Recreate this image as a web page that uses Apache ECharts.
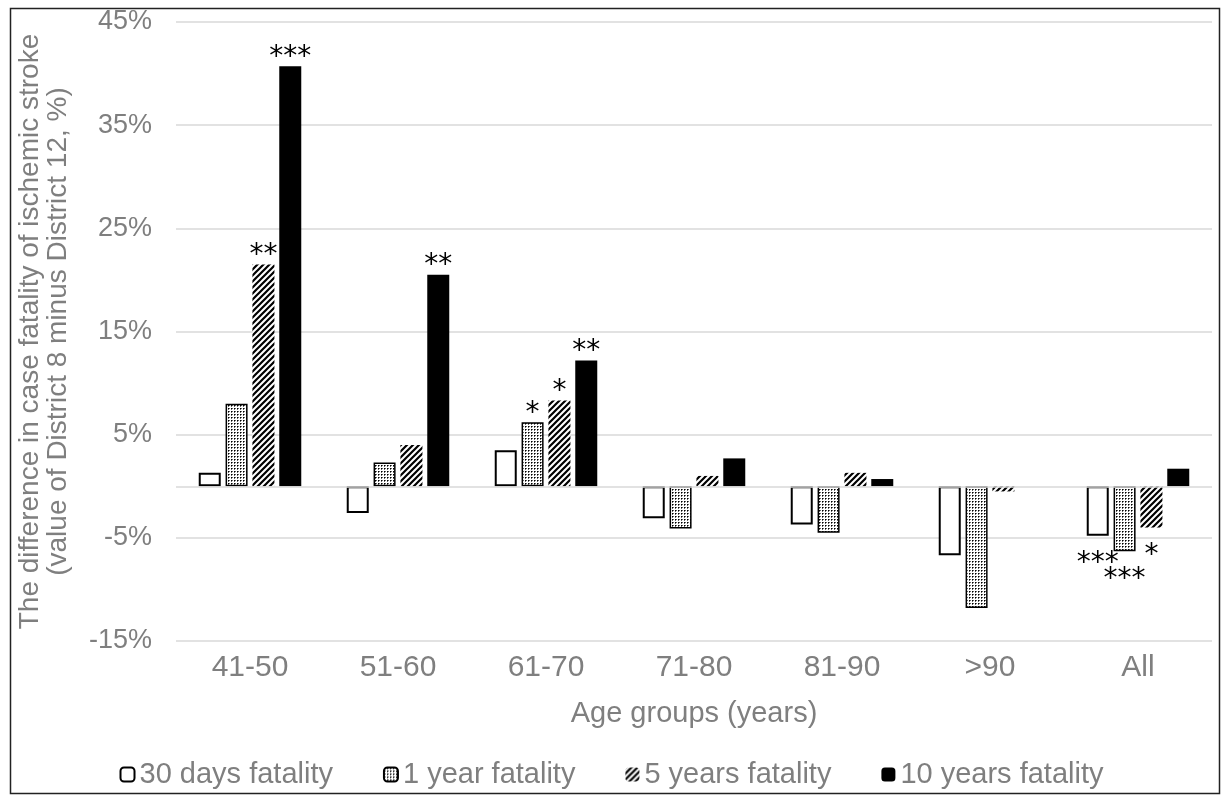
<!DOCTYPE html>
<html>
<head>
<meta charset="utf-8">
<script src="https://cdn.jsdelivr.net/npm/echarts@6/dist/echarts.min.js"></script>
<style>
  html, body { margin: 0; padding: 0; background: #fff; }
  #chart { width: 1223px; height: 795px; }
</style>
</head>
<body>
<div id="chart"></div>
<script>
// data (percent)
const categories = ['41-50', '51-60', '61-70', '71-80', '81-90', '>90', 'All']
const seriesNames = ['30 days fatality', '1 year fatality', '5 years fatality', '10 years fatality']
const fatality30d = [1.3, -2.6, 3.5, -3.1, -3.7, -6.7, -4.8]
const fatality1y = [8.0, 2.3, 6.2, -4.1, -4.5, -11.8, -6.3]
const fatality5y = [21.5, 4.0, 8.3, 1.0, 1.3, -0.5, -4.0]
const fatality10y = [40.7, 20.5, 12.2, 2.7, 0.7, 0, 1.7]
// significance marks
const stars30d = ['', '', '', '', '', '', '***']
const stars1y = ['', '', '*', '', '', '', '***']
const stars5y = ['**', '', '*', '', '', '', '*']
const stars10y = ['***', '**', '**', '', '', '', '']
// y axis range
const yMin = -15
const yMax = 45
const yStep = 10

const textGrey = '#7f7f7f'
const font = 'Liberation Sans'

function dotPattern() {
  const c = document.createElement('canvas')
  c.width = 3
  c.height = 3
  const ctx = c.getContext('2d')
  ctx.fillStyle = '#fff'
  ctx.fillRect(0, 0, 3, 3)
  ctx.fillStyle = '#000'
  ctx.fillRect(0, 0, 1, 1)
  ctx.fillStyle = '#666'
  ctx.fillRect(1, 0, 1, 1)
  ctx.fillRect(0, 1, 1, 1)
  return c
}

function stripePattern() {
  const s = 6
  const c = document.createElement('canvas')
  c.width = s
  c.height = s
  const ctx = c.getContext('2d')
  ctx.fillStyle = '#fff'
  ctx.fillRect(0, 0, s, s)
  ctx.strokeStyle = '#000'
  ctx.lineWidth = 2.2
  ctx.beginPath()
  ctx.moveTo(-1, s + 1); ctx.lineTo(s + 1, -1)
  ctx.moveTo(-1, 1); ctx.lineTo(1, -1)
  ctx.moveTo(s - 1, s + 1); ctx.lineTo(s + 1, s - 1)
  ctx.stroke()
  return c
}

// stars go above positive bars and below negative ones
function buildData(values, stars) {
  return values.map(function(v, i) {
    return {
      value: v,
      label: {
        show: stars[i] !== '',
        formatter: stars[i],
        position: v < 0 ? 'bottom' : 'top',
        distance: v < 0 ? 14 : -5
      }
    }
  })
}

const starLabel = {
  color: '#000',
  fontSize: 28,
  fontFamily: 'DejaVu Sans'
}

const chart = echarts.init(document.getElementById('chart'))
chart.setOption({
  animation: false,
  backgroundColor: '#fff',
  graphic: [{
    type: 'rect',
    silent: true,
    shape: { x: 10.5, y: 8.5, width: 1209, height: 785 },
    style: { fill: 'none', stroke: '#222', lineWidth: 1.5 }
  }],
  grid: {
    left: 176,
    right: 11,
    top: 22,
    bottom: 154
  },
  legend: {
    data: seriesNames,
    left: 'center',
    top: 755,
    itemWidth: 14,
    itemHeight: 14,
    itemGap: 50,
    textStyle: { fontSize: 29, color: textGrey, fontFamily: font }
  },
  xAxis: {
    type: 'category',
    data: categories,
    name: 'Age groups (years)',
    nameLocation: 'middle',
    nameGap: 58,
    nameTextStyle: { fontSize: 29, color: textGrey, fontFamily: font },
    axisLine: { show: false },
    axisTick: { show: false },
    axisLabel: { fontSize: 30, color: textGrey, fontFamily: font, margin: 12 }
  },
  yAxis: {
    type: 'value',
    min: yMin,
    max: yMax,
    interval: yStep,
    name: 'The difference in case fatality of ischemic stroke\n(value of District 8 minus District 12, %)',
    nameLocation: 'middle',
    nameGap: 104,
    nameTextStyle: { fontSize: 28, color: textGrey, fontFamily: font, lineHeight: 28 },
    axisLine: { show: false },
    axisTick: { show: false },
    axisLabel: { fontSize: 27, color: textGrey, fontFamily: font, margin: 24, formatter: '{value}%' },
    splitLine: { lineStyle: { color: '#d9d9d9', width: 1.5 } }
  },
  series: [
    {
      name: seriesNames[0],
      type: 'bar',
      barWidth: 22,
      barGap: '22%',
      data: buildData(fatality30d, stars30d),
      itemStyle: { color: '#fff', borderColor: '#000', borderWidth: 2 },
      label: starLabel,
      markLine: {
        silent: true,
        symbol: 'none',
        label: { show: false },
        lineStyle: { color: '#d9d9d9', type: 'solid', width: 1.5 },
        data: [{ yAxis: 0 }]
      }
    },
    {
      name: seriesNames[1],
      type: 'bar',
      barWidth: 22,
      barGap: '22%',
      data: buildData(fatality1y, stars1y),
      itemStyle: { color: { image: dotPattern(), repeat: 'repeat' }, borderColor: '#000', borderWidth: 1.5 },
      label: starLabel
    },
    {
      name: seriesNames[2],
      type: 'bar',
      barWidth: 22,
      barGap: '22%',
      data: buildData(fatality5y, stars5y),
      itemStyle: { color: { image: stripePattern(), repeat: 'repeat' } },
      label: starLabel
    },
    {
      name: seriesNames[3],
      type: 'bar',
      barWidth: 22,
      barGap: '22%',
      data: buildData(fatality10y, stars10y),
      itemStyle: { color: '#000' },
      label: starLabel
    }
  ]
})
</script>
</body>
</html>
